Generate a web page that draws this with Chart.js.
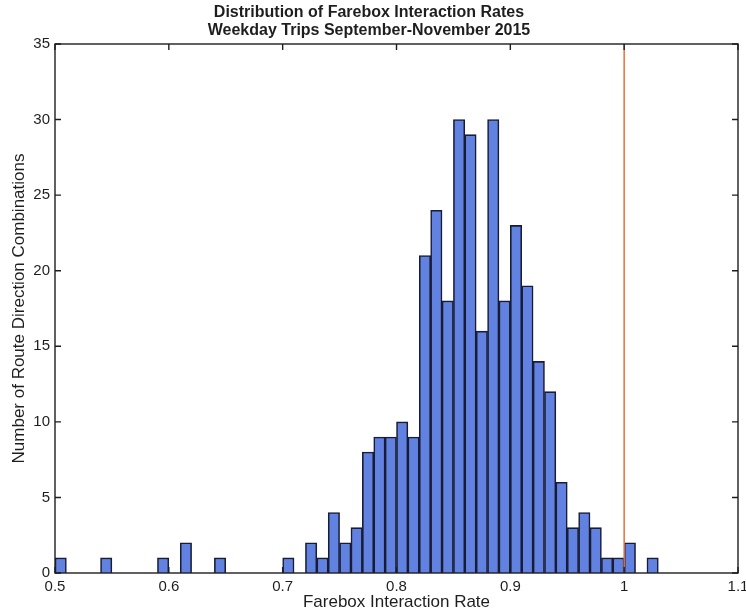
<!DOCTYPE html>
<html>
<head>
<meta charset="utf-8">
<script src="https://cdn.jsdelivr.net/npm/chart.js@4.4.0/dist/chart.umd.min.js"></script>
<style>
  html, body { margin: 0; padding: 0; background: #fff; }
</style>
</head>
<body>
<canvas id="hist" width="746" height="614"></canvas>
<script>
// histogram bins (centres, width 0.01) and counts
const binCenters = [
  0.505, 0.515, 0.525, 0.535, 0.545, 0.555, 0.565, 0.575, 0.585, 0.595,
  0.605, 0.615, 0.625, 0.635, 0.645, 0.655, 0.665, 0.675, 0.685, 0.695,
  0.705, 0.715, 0.725, 0.735, 0.745, 0.755, 0.765, 0.775, 0.785, 0.795,
  0.805, 0.815, 0.825, 0.835, 0.845, 0.855, 0.865, 0.875, 0.885, 0.895,
  0.905, 0.915, 0.925, 0.935, 0.945, 0.955, 0.965, 0.975, 0.985, 0.995,
  1.005, 1.015, 1.025,
];
const counts = [
  1, 0, 0, 0, 1, 0, 0, 0, 0, 1,
  0, 2, 0, 0, 1, 0, 0, 0, 0, 0,
  1, 0, 2, 1, 4, 2, 3, 8, 9, 9,
  10, 9, 21, 24, 18, 30, 29, 16, 30, 18,
  23, 19, 14, 12, 6, 3, 4, 3, 1, 1,
  2, 0, 1,
];
const refRate = 1.0;           // vertical marker
const xRange = [0.5, 1.1];
const yRange = [0, 35];

const FONT = "'Liberation Sans', Arial, Helvetica, sans-serif";
const INK  = "#1e1e1e";

// ── frame with MATLAB-style inward ticks ─────────────────────────────────────
const boxTicks = {
  id: "boxTicks",
  afterDraw(chart) {
    const { ctx, chartArea: a, scales: { x, y } } = chart;
    const len = 6;
    ctx.save();
    ctx.strokeStyle = INK;
    ctx.lineWidth = 1.4;
    ctx.strokeRect(a.left, a.top, a.right - a.left, a.bottom - a.top);
    ctx.beginPath();
    x.ticks.forEach(t => {
      const px = x.getPixelForValue(t.value);
      ctx.moveTo(px, a.bottom); ctx.lineTo(px, a.bottom - len);
      ctx.moveTo(px, a.top);    ctx.lineTo(px, a.top + len);
    });
    y.ticks.forEach(t => {
      const py = y.getPixelForValue(t.value);
      ctx.moveTo(a.left, py);  ctx.lineTo(a.left + len, py);
      ctx.moveTo(a.right, py); ctx.lineTo(a.right - len, py);
    });
    ctx.stroke();
    ctx.restore();
  },
};

new Chart(document.getElementById("hist"), {
  type: "bar",
  data: {
    datasets: [
      {
        type: "line",
        data: [{ x: refRate, y: yRange[0] }, { x: refRate, y: yRange[1] }],
        borderColor: "#e8703a",
        borderWidth: 1.5,
        pointRadius: 0,
        order: 0,
      },
      {
        data: binCenters.map((c, i) => ({ x: c, y: counts[i] })),
        backgroundColor: "#6282e2",
        borderColor: "#181c34",
        borderWidth: 1.6,
        barPercentage: 1,
        categoryPercentage: 1,
        order: 1,
      },
    ],
  },
  options: {
    responsive: false,
    animation: false,
    layout: { padding: { left: 0, right: 8, top: 0, bottom: 0 } },
    plugins: {
      legend: { display: false },
      tooltip: { enabled: false },
      title: {
        display: true,
        text: ["Distribution of Farebox Interaction Rates", "Weekday Trips September-November 2015"],
        color: INK,
        font: { family: FONT, size: 16, weight: "bold", lineHeight: 1.125 },
        padding: { top: 4, bottom: 4 },
      },
    },
    scales: {
      x: {
        type: "linear",
        min: xRange[0],
        max: xRange[1],
        offset: false,
        grid: { display: false, drawTicks: false },
        border: { display: false },
        ticks: {
          stepSize: 0.1,
          padding: 5,
          color: INK,
          font: { family: FONT, size: 15 },
          maxRotation: 0,
          callback: v => String(parseFloat(v.toFixed(2))),
        },
        title: {
          display: true,
          text: "Farebox Interaction Rate",
          color: INK,
          font: { family: FONT, size: 17 },
          padding: { top: 0, bottom: 1 },
        },
        afterFit: s => { s.height = 41; s.paddingLeft = 0; s.paddingRight = 0; },
      },
      y: {
        min: yRange[0],
        max: yRange[1],
        grid: { display: false, drawTicks: false },
        border: { display: false },
        ticks: {
          stepSize: 5,
          padding: 5,
          color: INK,
          font: { family: FONT, size: 15 },
        },
        title: {
          display: true,
          text: "Number of Route Direction Combinations",
          color: INK,
          font: { family: FONT, size: 17 },
          padding: { top: 9, bottom: 0 },
        },
        afterFit: s => { s.width = 55; s.paddingTop = 0; s.paddingBottom = 0; },
      },
    },
  },
  plugins: [boxTicks],
});
</script>
</body>
</html>
